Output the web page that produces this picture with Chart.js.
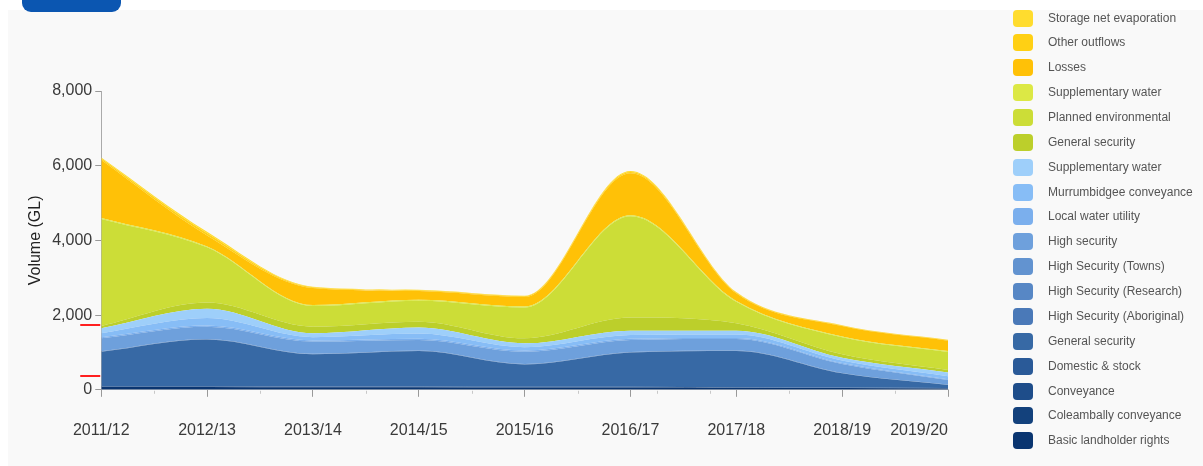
<!DOCTYPE html>
<html>
<head>
<meta charset="utf-8">
<script src="https://cdn.jsdelivr.net/npm/chart.js@4.4.1/dist/chart.umd.min.js"></script>
<style>
  html, body { margin:0; padding:0; background:#ffffff; width:1203px; height:466px; overflow:hidden;
    font-family: Arial, "Liberation Sans", Helvetica, sans-serif; }
  #panel { position:absolute; left:8px; top:10px; width:1195px; height:456px; background:#f9f9f9; }
  #btn { position:absolute; left:22px; top:-10px; width:99px; height:22px; background:#0b56b1; border-radius:9px; }
  #wrap { position:absolute; left:0; top:0; width:1203px; height:466px; }
  #legend { position:absolute; left:1000px; top:10px; width:203px; height:456px; overflow:hidden; }
  .item { position:absolute; left:0; height:17px; width:203px; }
  .sw { position:absolute; left:13px; top:0; width:20px; height:17px; border-radius:4px; }
  .lb { position:absolute; left:48px; top:0; line-height:17px; font-size:12px; color:#555; white-space:nowrap; }
</style>
</head>
<body>
<div id="panel"></div>
<div id="btn"></div>
<div id="wrap"><canvas id="c" width="1203" height="466"></canvas></div>
<div id="legend"></div>
<script>
// ---- Data ----
const categories = ["2011/12","2012/13","2013/14","2014/15","2015/16","2016/17","2017/18","2018/19","2019/20"];

// bottom of stack first
const basicLandholder     = [75, 75, 68, 68, 60, 60, 52, 45, 36];
const coleamballyConv     = [8, 8, 7, 7, 6, 6, 6, 5, 5];
const conveyance          = [8, 8, 7, 7, 6, 6, 6, 5, 4];
const domesticStock       = [9, 9, 8, 8, 8, 8, 6, 5, 5];
const generalSecurityBlue = [920, 1250, 860, 950, 600, 920, 970, 380, 80];
const hsAboriginal        = [3, 3, 3, 3, 3, 3, 3, 3, 3];
const hsResearch          = [3, 3, 3, 3, 3, 3, 3, 3, 3];
const hsTowns             = [6, 6, 6, 6, 6, 6, 6, 6, 6];
const highSecurity        = [345, 328, 328, 283, 328, 323, 308, 238, 118];
const localWaterUtility   = [30, 30, 30, 30, 30, 30, 30, 25, 20];
const murrumbidgeeConv    = [110, 200, 90, 140, 90, 100, 90, 70, 85];
const supplementaryBlue   = [129, 247, 102, 160, 103, 119, 104, 75, 100];
const generalSecurityGreen= [64, 169, 178, 160, 134, 349, 196, 90, 64];
const plannedEnvironmental= [2865, 1479, 555, 560, 826, 2714, 575, 455, 486];
const supplementaryGreen  = [25, 25, 25, 25, 25, 25, 25, 25, 25];
const losses              = [1550, 290, 455, 235, 257, 1128, 205, 275, 275];
const otherOutflows       = [40, 60, 20, 20, 20, 30, 20, 15, 15];
const storageNetEvap      = [30, 40, 15, 15, 15, 30, 15, 10, 10];

const yTicks = [0, 2000, 4000, 6000, 8000];
const markerValues = [1740, 370];
const minorTickPositions = [0.5, 1.5, 2.5, 3.5, 4.5, 5.25, 5.75, 6.5, 7.5];

const seriesNames = ["Basic landholder rights","Coleambally conveyance","Conveyance","Domestic & stock",
  "General security","High Security (Aboriginal)","High Security (Research)","High Security (Towns)",
  "High security","Local water utility","Murrumbidgee conveyance","Supplementary water",
  "General security","Planned environmental","Supplementary water","Losses","Other outflows","Storage net evaporation"];
const seriesValues = [basicLandholder, coleamballyConv, conveyance, domesticStock, generalSecurityBlue,
  hsAboriginal, hsResearch, hsTowns, highSecurity, localWaterUtility, murrumbidgeeConv, supplementaryBlue,
  generalSecurityGreen, plannedEnvironmental, supplementaryGreen, losses, otherOutflows, storageNetEvap];
const seriesColors = ["#0a3570","#13417c","#1e4d8a","#2a5a98","#3769a5","#4a79b8","#5787c5","#6293d0",
  "#6ea0dc","#7bafed","#87bdf6","#9ecffa","#bccf2b","#ccdd37","#dce845","#ffc107","#ffd014","#ffdc2e"];

const datasets = seriesValues.map((vals, i) => ({
  label: seriesNames[i],
  data: vals,
  backgroundColor: seriesColors[i],
  borderColor: seriesColors[i],
  borderWidth: 0,
  pointRadius: 0,
  pointHoverRadius: 0,
  fill: i === 0 ? 'origin' : '-1',
  cubicInterpolationMode: 'monotone'
}));

// HTML legend (top = last series)
const legendEl = document.getElementById('legend');
for (let k = 0; k < seriesNames.length; k++) {
  const i = seriesNames.length - 1 - k;
  const it = document.createElement('div');
  it.className = 'item';
  it.style.top = (9.5 + 24.87 * k - 10) + 'px';
  it.innerHTML = '<div class="sw" style="background:' + seriesColors[i] + '"></div><div class="lb"></div>';
  it.querySelector('.lb').textContent = seriesNames[i];
  legendEl.appendChild(it);
}

const markerPlugin = {
  id: 'markers',
  afterDraw(chart) {
    const y = chart.scales.y, x = chart.scales.x, ctx = chart.ctx;
    ctx.save();
    ctx.strokeStyle = '#ff2020';
    ctx.lineWidth = 2;
    markerValues.forEach(v => {
      const py = Math.round(y.getPixelForValue(v));
      ctx.beginPath();
      ctx.moveTo(chart.chartArea.left - 21, py);
      ctx.lineTo(chart.chartArea.left - 1, py);
      ctx.stroke();
    });
    // minor x ticks
    ctx.strokeStyle = '#c8c8c8';
    ctx.lineWidth = 1;
    const by = chart.chartArea.bottom;
    minorTickPositions.forEach(p => {
      const px = Math.round(x.getPixelForValue(p)) + 0.5;
      ctx.beginPath();
      ctx.moveTo(px, by + 1);
      ctx.lineTo(px, by + 4);
      ctx.stroke();
    });
    ctx.restore();
  }
};

const lastLabelAlign = {
  id: 'lastAlign',
  beforeDraw(chart) {
    const items = chart.scales.x.getLabelItems();
    const last = items[items.length - 1];
    if (last && last.options) last.options.textAlign = 'right';
  }
};

new Chart(document.getElementById('c'), {
  type: 'line',
  data: { labels: categories, datasets },
  plugins: [markerPlugin, lastLabelAlign],
  options: {
    responsive: false,
    animation: false,
    layout: { padding: { left: 22, right: 255, top: 91, bottom: 2 } },
    plugins: { legend: { display: false }, tooltip: { enabled: false } },
    scales: {
      x: {
        offset: false,
        grid: { drawOnChartArea: false, drawTicks: true, tickLength: 7, color: '#999' },
        border: { display: true, color: '#cccccc', width: 1 },
        ticks: { color: '#3a3a3a', font: { size: 16, family: 'Arial, "Liberation Sans", sans-serif' }, padding: 24, maxRotation: 0, autoSkip: false }
      },
      y: {
        stacked: true,
        min: 0, max: 8000,
        afterBuildTicks(scale) { scale.ticks = yTicks.map(v => ({ value: v })); },
        grid: { drawOnChartArea: false, drawTicks: true, tickLength: 6, color: '#999' },
        border: { display: true, color: '#aaaaaa', width: 1 },
        ticks: { color: '#3a3a3a', font: { size: 16, family: 'Arial, "Liberation Sans", sans-serif' }, padding: 3 },
        title: { display: true, text: 'Volume (GL)', color: '#222', font: { size: 16, family: 'Arial, "Liberation Sans", sans-serif' }, padding: { top: 4, bottom: 4 } }
      }
    }
  }
});
</script>
</body>
</html>
